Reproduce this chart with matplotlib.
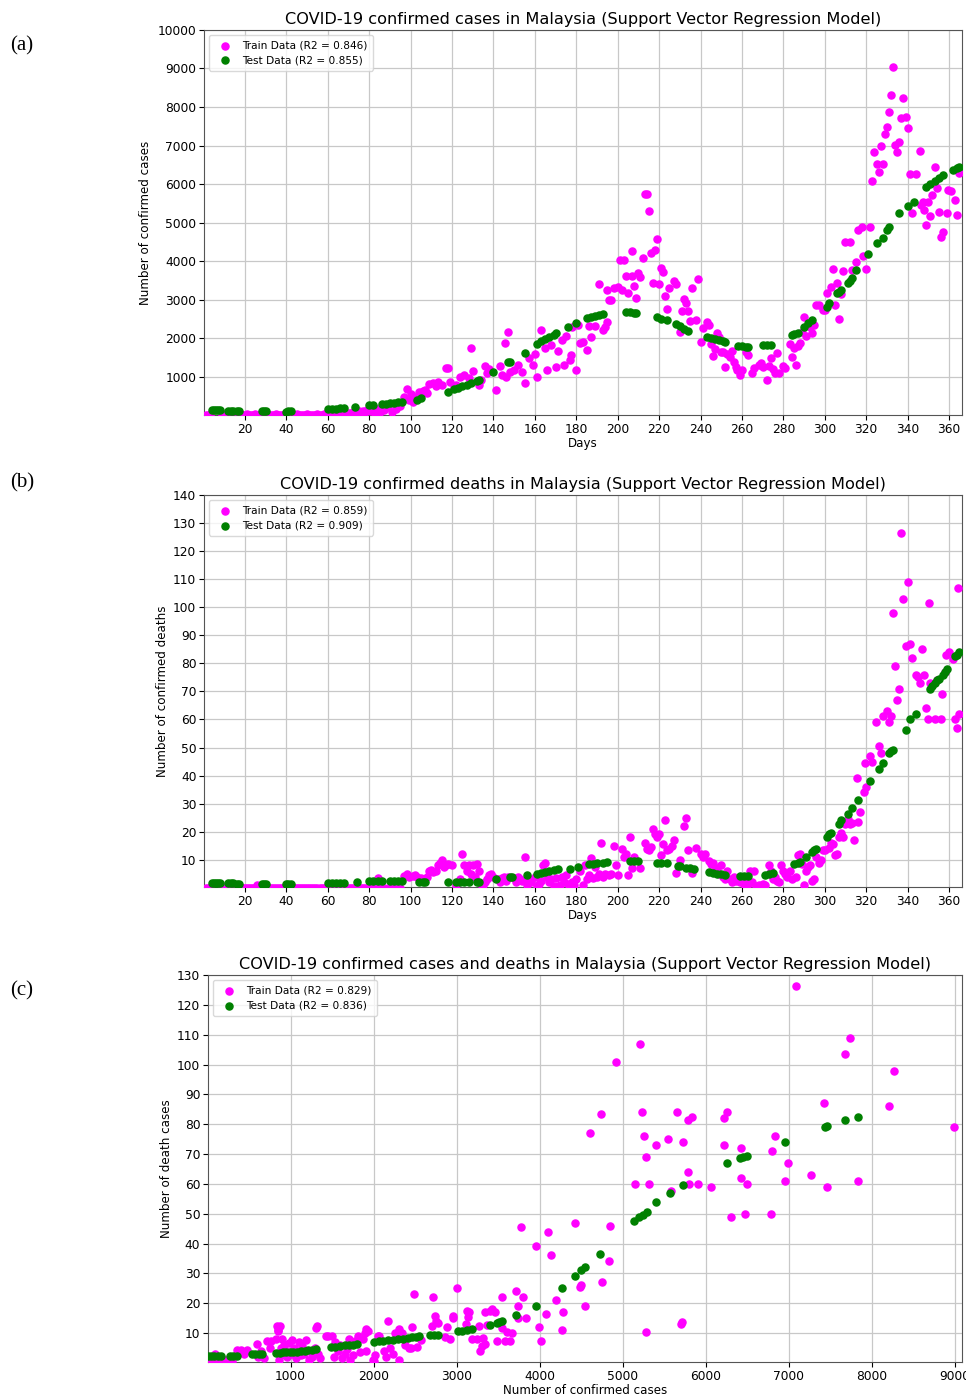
import numpy as np
import matplotlib
matplotlib.use('Agg')
import matplotlib.pyplot as plt

# ---------------- (a) confirmed cases vs day ----------------
early_days = [1, 2, 3, 9, 10, 11, 15, 18, 19, 20, 21, 22, 23, 24, 25, 26, 27, 31, 32, 33, 34, 35, 36, 37, 38, 39,
              43, 44, 45, 46, 47, 48, 49, 50, 51, 52, 53, 54, 55, 56, 57, 58, 59, 61, 63, 65, 67, 69, 70, 71, 72,
              74, 75, 76, 77, 78, 79, 81, 83, 84, 85, 87, 89, 91, 93, 95]
a_early_cases = [20, 15, 25, 20, 15, 30, 20, 25, 15, 20, 30, 25, 20, 15, 30, 20, 25, 20, 15, 25, 20, 30, 15, 20, 25, 15,
                 20, 25, 30, 20, 15, 25, 20, 30, 25, 20, 15, 25, 30, 20, 25, 30, 35, 30, 40, 35, 45, 50, 60, 40, 90,
                 70, 110, 50, 130, 80, 150, 120, 60, 180, 100, 140, 210, 90, 170, 250]

a_train_day = [97, 98, 99, 100, 101, 102, 104, 106, 107, 108, 109, 111, 112, 113, 115, 117, 118, 119, 121, 122,
               124, 126, 128, 129, 130, 133, 134, 136, 137, 138, 141, 143, 144, 145.6, 146, 147, 148, 150, 152, 154,
               155, 157, 159, 160, 161, 163, 165, 166, 168, 170, 171, 173, 174, 175, 177, 177.5, 178, 180, 181, 182,
               183, 185, 186, 187, 189, 191, 193, 194, 195, 195, 196, 197, 198, 200, 201, 202, 203, 204, 205, 207,
               207, 208, 209, 210, 211, 212, 213, 214, 215, 216, 217, 218, 219, 220, 221, 222, 223, 224, 225, 227,
               228, 230, 231, 232, 233, 234, 235, 236, 238, 239, 240, 241, 243, 244, 245, 246, 247, 248, 249, 250,
               251, 252, 253, 254, 255, 256, 257, 257.5, 259, 260, 262, 263, 265, 266, 268, 269, 270, 272, 273, 274,
               275, 276, 277, 278, 280, 281, 283, 284, 285, 286, 287, 288, 289, 290, 291, 293, 294, 295, 296, 297,
               299, 300, 301, 303, 304, 305, 306, 307, 308, 309, 310, 312, 313, 315, 316, 318, 318.5, 320, 322, 323,
               324, 325, 326, 327, 328, 329, 330, 331, 332, 333, 334, 335, 336, 337, 338, 339, 340, 341, 342, 344,
               346, 346.5, 347.5, 348, 349, 350, 351, 352, 353, 354, 355, 356, 357, 359, 359.5, 361, 363, 364, 365]
a_train_cases = [470, 690, 400, 550, 350, 480, 600, 640, 660, 580, 820, 850, 770, 870, 800, 1230, 1230, 860, 720, 800,
                 1000, 1050, 980, 1750, 1150, 800, 920, 1290, 1100, 1200, 660, 1290, 1050, 1880, 1000, 2170, 1130,
                 1180, 1310, 1130, 850, 1490, 1300, 1600, 1000, 2220, 1750, 1180, 1830, 1260, 1680, 1960, 1310, 2060,
                 1440, 1570, 2300, 1180, 2350, 1880, 1910, 1700, 2330, 2040, 2330, 3410, 2220, 2300, 2420, 3250, 3000,
                 3000, 3300, 3330, 4030, 3250, 4030, 3620, 3170, 3620, 4260, 3360, 3050, 3690, 3600, 4080, 5740, 5740,
                 5310, 4210, 3440, 4290, 4580, 3410, 3830, 3720, 3100, 2760, 3310, 3490, 3400, 2170, 2710, 3020, 2920,
                 2710, 2450, 3310, 2480, 3540, 1910, 2270, 2420, 2350, 1850, 1550, 1720, 2140, 2040, 1650, 1650, 1260,
                 1600, 1530, 1680, 1400, 1250, 1180, 1050, 1180, 1650, 1570, 1100, 1230, 1300, 1360, 1250, 920, 1280,
                 1490, 1200, 1100, 1620, 1100, 1280, 1230, 1850, 1530, 1750, 1310, 1800, 1880, 2160, 2550, 2050, 2290,
                 2150, 2350, 2860, 2860, 2740, 2740, 3180, 3330, 3800, 2860, 3440, 2500, 3150, 3750, 4500, 4500, 3780,
                 3980, 4810, 4890, 4140, 3800, 4890, 6080, 6830, 6520, 6310, 6990, 6520, 7300, 7480, 7870, 8310, 9030,
                 7010, 6830, 7090, 7710, 8230, 7740, 7460, 6260, 5250, 6260, 6860, 5450, 5530, 5320, 4940, 5550, 5170,
                 5720, 6440, 5890, 5290, 4630, 4760, 5250, 5850, 5830, 5580, 5210, 6290]

a_test_day = [4, 5, 6, 7, 8, 12, 13, 14, 16, 17, 28, 29, 30, 40, 41, 42, 60, 62, 64, 66, 68, 73, 80, 82, 86, 88, 90,
              92, 94, 96, 103, 105, 118, 121, 123, 125, 127, 129, 132, 133, 140, 147, 148, 155, 161, 163, 165, 167,
              169, 170, 176, 180, 185, 187, 189, 191, 193, 204, 206, 208, 209, 219, 221, 224, 228, 230, 232, 234,
              243, 245, 247, 249, 251, 252, 258, 260, 262, 263, 270, 272, 274, 284, 285, 287, 290, 292, 294, 301,
              302, 306, 307, 308, 311, 312, 313, 315, 321, 325, 328, 330, 331, 336, 340, 343, 349, 351, 353, 355,
              357, 362, 364, 365]
a_test_cases = [150, 155, 150, 155, 150, 130, 125, 120, 110, 110, 110, 115, 110, 100, 110, 120, 170, 175, 180, 185,
                190, 220, 260, 280, 300, 310, 320, 330, 340, 350, 400, 450, 610, 690, 720, 760, 800, 840, 900, 930,
                1130, 1380, 1400, 1620, 1860, 1920, 1980, 2040, 2100, 2140, 2290, 2400, 2530, 2560, 2580, 2600, 2630,
                2680, 2680, 2670, 2660, 2550, 2510, 2480, 2370, 2310, 2250, 2190, 2040, 2010, 1980, 1950, 1920, 1900,
                1800, 1800, 1790, 1790, 1820, 1830, 1840, 2100, 2120, 2150, 2300, 2400, 2480, 2820, 2920, 3170, 3210,
                3250, 3440, 3500, 3570, 3780, 4190, 4470, 4600, 4810, 4890, 5250, 5440, 5540, 5920, 6000, 6080, 6150,
                6230, 6370, 6410, 6440]

# ---------------- (b) confirmed deaths vs day ----------------
b_early_deaths = [0, 0, 0, 0, 0, 0, 0, 0, 0, 0, 0, 0, 0, 0, 0, 1, 0, 0, 0, 0, 0, 0, 0, 0, 0, 0,
                  0, 0, 0, 0, 0, 0, 0, 0, 0, 0, 0, 0, 0, 0, 0, 0, 0, 0, 0, 0, 0, 0, 0, 0, 0,
                  0, 0, 0, 0, 0, 0, 0, 0, 3.5, 0, 0, 0, 0, 0, 0]

b_train_day = [97, 98, 99, 101, 102, 103, 105, 108, 109, 110, 111, 112, 113, 114, 115, 116, 117, 118, 120, 122, 124,
               125, 126, 127, 128, 129, 130, 131, 132, 133, 134, 135, 136, 137, 138, 139, 140, 142, 143, 144, 145,
               146, 147, 150, 151, 152, 153, 154, 155, 156, 157, 158, 160, 161, 162, 163, 164, 165, 166, 167, 168,
               169, 170, 172, 173, 174, 175, 176, 177, 178, 179, 180, 182, 183, 184, 185, 186, 187, 188, 189, 190,
               191, 192, 193, 194, 196, 197, 198, 199, 200, 202, 203, 204, 205, 206, 207, 208, 211, 213, 214, 215,
               216, 217, 218, 219, 220, 221, 222, 223, 224, 225, 226, 227, 228, 230, 232, 233, 234, 236, 238, 240,
               241, 242, 244, 245, 246, 247, 248, 249, 250, 251, 252, 253, 254, 255, 256, 257, 258, 259, 260, 261,
               262, 263, 264, 265, 266, 267, 268, 269, 270, 271, 273, 274, 275, 276, 277, 278, 279, 280, 281, 282,
               283, 284, 286, 287, 288, 289, 290, 291, 292, 293, 294, 295, 296, 297, 298, 299, 300, 302, 303, 304,
               305, 306, 307, 308, 309, 310, 311, 312, 313, 314, 315.6, 316, 317, 318.8, 319.6, 320, 322, 323, 324.7,
               326, 327, 328, 330, 331, 332, 333, 334, 335, 336, 337, 338, 339, 340, 341, 342, 344, 345, 346, 347,
               348, 349, 350, 350.5, 351, 353, 354, 356, 356.6, 358, 358.5, 360, 362, 363, 364, 364.5, 365]
b_train_deaths = [4.3, 5, 4, 4.3, 4.5, 4, 3.5, 4, 6, 6.5, 5.5, 6, 8, 9, 10, 7.5, 8, 8.5, 8, 1, 3,
                  12, 8, 6, 8, 5, 8, 4, 8.5, 6, 1.5, 1, 2, 3, 4.5, 5, 4, 3, 2, 3.5, 4,
                  2.5, 4, 3.5, 2, 4, 3, 2.5, 11, 1, 3, 2, 4, 0.5, 1.5, 2.5, 8, 9, 4, 2, 3,
                  0.5, 3.5, 1, 4, 2, 4.5, 1.5, 0.5, 2, 1, 3, 6, 1, 8, 3, 4.5, 10.7, 3.5, 7.5, 4,
                  5, 16, 4, 5, 4.5, 5, 15, 8, 4.5, 14, 11, 12, 4.5, 18, 7, 11, 7, 16, 14, 13.5,
                  14.5, 21, 19, 18, 19, 11.7, 15.5, 24.3, 13.5, 14, 15, 17, 5.4, 10, 22, 25, 13.5, 5.4, 14.3, 12,
                  11, 12, 9.6, 8.6, 9, 6.5, 7, 5, 8, 4, 3, 6, 3, 2, 4, 2.5, 3.5, 2, 3, 1.5,
                  2, 1.5, 6, 2, 6, 0.5, 1, 0.5, 1.5, 1, 8, 6, 3, 4, 2.4, 2, 8, 6, 5, 4,
                  6, 3, 4, 11.8, 12, 8.5, 1, 6, 7.5, 8, 2.5, 3, 11, 9, 10, 13.5, 13.3, 14.3, 16, 15.7,
                  11.7, 12, 18, 19.6, 18, 22.6, 24.6, 22.6, 23, 17, 39, 23.4, 27, 34, 44.6, 36, 47, 45, 59,
                  50.7, 48, 61.4, 63, 59, 61.4, 98, 79, 67, 71, 126.4, 103, 86, 109, 87, 82, 76, 75, 73, 85,
                  76, 64, 60, 101.4, 73, 60, 74, 60, 69, 77, 83, 84, 81.6, 60, 57, 107, 62]

b_test_day = [4, 5, 6, 7, 8, 12, 13, 14, 16, 17, 28, 29, 30, 40, 41, 42, 60, 62, 64, 66, 68, 74, 80, 82, 84, 86, 90,
              92, 94, 96, 104, 106, 107, 118, 122, 124, 126, 128, 132, 133, 141, 148, 149, 156, 161, 163, 165, 167,
              169, 171, 177, 181, 186, 188, 190, 193, 195, 206, 208, 210, 219, 221, 224, 229, 230, 233, 235, 237,
              244, 246, 248, 250, 252, 259, 261, 263, 271, 273, 275, 285, 287, 288, 291, 294, 295, 296, 301, 302,
              303, 307, 308, 311, 313, 316, 322, 326, 328, 331, 332, 333, 339, 341, 344, 351, 352, 353, 354, 355,
              357, 358, 359, 363, 364, 365]
b_test_deaths = [1.8, 1.8, 1.8, 1.8, 1.8, 1.8, 1.8, 1.8, 1.5, 1.5, 1.3, 1.3, 1.3, 1.3, 1.3, 1.3, 1.8, 1.8, 1.8, 1.8,
                 1.8, 2, 2.5, 2.5, 2.5, 2.5, 2.5, 2.5, 2.5, 2.5, 2, 2, 2, 2, 2.2, 2.2, 2.2, 2.2, 2, 2, 3.3, 3.8, 3.8,
                 4.4, 5, 5.4, 5.8, 6.1, 6.4, 6.7, 6.8, 7.5, 8.4, 8.6, 8.8, 9, 9.2, 9.6, 9.6, 9.6, 8.9, 8.9, 8.9, 7.8,
                 7.8, 7.2, 7, 6.8, 5.7, 5.3, 5, 4.8, 4.6, 4.2, 4.2, 4.2, 4.7, 4.9, 5.1, 8.4, 8.8, 9.2, 11, 12.8,
                 13.5, 14, 18, 19, 19.6, 22.8, 24, 26.4, 28.6, 31.4, 37.9, 42.5, 44.6, 48, 48.6, 49, 56.4, 60, 62,
                 71, 72, 73, 74, 74.5, 76, 77, 78, 82.5, 83, 84]

# ---------------- (c) deaths vs confirmed cases ----------------
c_train_cases = [20, 60, 100, 140, 180, 220, 260, 290, 85, 45, 150, 360, 400, 440, 480, 590, 610, 640, 680, 710,
                 750, 760, 830, 840, 845, 850, 870, 860, 880, 890, 900, 920, 940, 960, 980, 1000, 1020, 1040, 1060,
                 1080, 1100, 1120, 1140, 1160, 1190, 1220, 1240, 1260, 1290, 1310, 1320, 1330, 1350, 1430, 1450,
                 1500, 1520, 1540, 1570, 1600, 1620, 1650, 1680, 1700, 1720, 1750, 1780, 1810, 1840, 1870, 1890,
                 1910, 1930, 1910, 1990, 2000, 2020, 2050, 2070, 2130, 2150, 2170, 2200, 2230, 2260, 2300, 2310,
                 2340, 2380, 2420, 2450, 2460, 2490, 2520, 2570, 2700, 2710, 2740, 2750, 2770, 2860, 2880, 2920,
                 2950, 2960, 3000, 3110, 3120, 3140, 3150, 3190, 3250, 3280, 3300, 3320, 3340, 3270, 3340, 3370,
                 3400, 3430, 3460, 3490, 3540, 3540, 3580, 3610, 3640, 3660, 3720, 3740, 3740, 3770, 3800, 3840,
                 3960, 3990, 4010, 4080, 4100, 4130, 4200, 4270, 4280, 4430, 4480, 4500, 4550, 4600, 4740, 4750,
                 4830, 4840, 4920, 5150, 5210, 5230, 5250, 5280, 5280, 5320, 5400, 5550, 5580, 5650, 5700, 5710,
                 5720, 5780, 5780, 5800, 5830, 5900, 6060, 6220, 6250, 6220, 6300, 6420, 6420, 6470, 6500, 6780,
                 6800, 6830, 6950, 6990, 7090, 7270, 7420, 7460, 7680, 7730, 7830, 8200, 8270, 8990]
c_train_deaths = [0.5, 1, 0.3, 0.8, 0.5, 1, 0.3, 0.7, 3, 1.5, 2, 4.4, 4.4, 3, 4.4, 6.4, 2, 4, 1.5, 7.4,
                  5, 7.4, 8, 12.2, 11, 10.7, 12.4, 1, 2.5, 5, 8, 6, 4, 2, 6.5, 3, 7.8, 5, 1.5,
                  4, 7, 2.5, 5.5, 3, 7.8, 1, 4, 2, 5, 11.8, 12.2, 3, 1.5, 9, 9,
                  9, 2, 7, 4, 6, 1.5, 3, 4.5, 8, 1, 2.5, 7.5, 9, 3.5, 8, 10,
                  11.3, 10.6, 4, 1, 0.5, 2.5, 9, 9, 4, 2, 14, 5, 3, 10, 1, 11.3,
                  10, 6, 5, 5, 12, 23, 5.4, 7.8, 12.4, 22, 15.6, 14, 13.4, 8.6, 12, 8,
                  15.6, 15, 25, 13, 17.5, 15.5, 17, 8, 8, 4, 5.5, 8.4, 6.4, 12.5, 17, 12.8,
                  17.5, 18, 17, 7.4, 22, 11.8, 7.4, 10.5, 7.4, 10, 24, 19, 15, 45.4, 22, 15,
                  39.3, 12, 7.4, 16.4, 44, 36.3, 21, 11, 17, 47, 25.6, 26, 19, 77, 83.3, 27,
                  34, 46, 101, 60, 107, 84, 76, 69, 10.4, 60, 73, 75, 57.5, 84, 13, 13.8,
                  74, 64, 81.3, 60, 82.3, 60, 59, 82, 84, 73, 49, 72, 62, 50, 60, 50,
                  71, 76, 61, 67, 126.4, 63, 87, 59, 103.5, 109, 61, 86, 98, 79]

c_test_cases = [10, 40, 80, 120, 160, 270, 310, 350, 530, 570, 620, 660, 830, 870, 910, 950, 990, 1030, 1080, 1120,
                1170, 1210, 1260, 1310, 1490, 1540, 1590, 1650, 1700, 1750, 1800, 2010, 2070, 2110, 2170, 2230,
                2290, 2350, 2410, 2460, 2510, 2550, 2680, 2730, 2770, 3010, 3060, 3120, 3180, 3400, 3480, 3510,
                3540, 3720, 3950, 4270, 4430, 4500, 4550, 4720, 5130, 5200, 5240, 5290, 5400, 5570, 5720, 6250,
                6410, 6450, 6490, 6950, 7430, 7460, 7680, 7830]
c_test_deaths = [2.3, 2.3, 2.3, 2.3, 2.3, 2.4, 2.4, 2.4, 3, 3, 3.1, 3.1, 3.4, 3.4, 3.5, 3.5, 3.6, 3.7, 3.8, 3.9,
                 4.0, 4.2, 4.3, 4.5, 5.3, 5.4, 5.5, 5.9, 6, 6.1, 6.3, 7, 7.2, 7.5, 7.6, 7.8,
                 7.9, 8.1, 8.5, 8.6, 8.7, 8.9, 9.4, 9.4, 9.5, 10.6, 10.8, 11, 11.3, 12.8, 13.3, 13.7,
                 14, 16, 19, 25, 29.2, 31, 32, 36.6, 47.4, 48.8, 49.6, 50.5, 53.8, 56.8, 59.5, 67,
                 68.7, 69, 69.3, 74, 79, 79.3, 81.3, 82.4]

r2_labels = [('0.846', '0.855'), ('0.859', '0.909'), ('0.829', '0.836')]

# ---------------- figure ----------------
fig = plt.figure(figsize=(9.66, 13.99), dpi=100)
ax_a = fig.add_axes([0.2112, 0.7034, 0.7847, 0.2752])
ax_b = fig.add_axes([0.2112, 0.3660, 0.7847, 0.2802])
ax_c = fig.add_axes([0.2153, 0.02645, 0.7805, 0.2766])

pink = '#ff00ff'
grn = 'green'
ms = 26
title_fs = 11.6
tick_fs = 8.8
lab_fs = 8.6

panels = [
    (ax_a, early_days + a_train_day, a_early_cases + a_train_cases, a_test_day, a_test_cases,
     'COVID-19 confirmed cases in Malaysia (Support Vector Regression Model)', 'Days', 'Number of confirmed cases'),
    (ax_b, early_days + b_train_day, b_early_deaths + b_train_deaths, b_test_day, b_test_deaths,
     'COVID-19 confirmed deaths in Malaysia (Support Vector Regression Model)', 'Days', 'Number of confirmed deaths'),
    (ax_c, c_train_cases, c_train_deaths, c_test_cases, c_test_deaths,
     'COVID-19 confirmed cases and deaths in Malaysia (Support Vector Regression Model)',
     'Number of confirmed cases', 'Number of death cases'),
]

for i, (ax, xtr, ytr, xte, yte, title, xl, yl) in enumerate(panels):
    ax.scatter(xtr, ytr, s=ms, color=pink, label='Train Data (R2 = %s)' % r2_labels[i][0], zorder=3)
    ax.scatter(xte, yte, s=ms, color=grn, label='Test Data (R2 = %s)' % r2_labels[i][1], zorder=3)
    ax.set_title(title, fontsize=title_fs, pad=4)
    ax.set_xlabel(xl, fontsize=lab_fs, labelpad=1)
    ax.set_ylabel(yl, fontsize=lab_fs)
    ax.grid(True, color='#c8c8c8', linewidth=0.9)
    ax.set_axisbelow(True)
    ax.tick_params(labelsize=tick_fs, length=3.5, pad=2)
    for sp in ax.spines.values():
        sp.set_color('#555555')
    leg = ax.legend(loc='upper left', fontsize=7.6, handletextpad=0.6, borderpad=0.5, labelspacing=0.45)
    leg.get_frame().set_edgecolor('#d0d0d0')

ax_a.set_xlim(0.2, 366.3)
ax_a.set_ylim(15, 10000)
ax_a.set_xticks(np.arange(20, 361, 20))
ax_a.set_yticks(np.arange(1000, 10001, 1000))

ax_b.set_xlim(0.2, 366.3)
ax_b.set_ylim(0.3, 140)
ax_b.set_xticks(np.arange(20, 361, 20))
ax_b.set_yticks(np.arange(10, 141, 10))

ax_c.set_xlim(5, 9084)
ax_c.set_ylim(0.3, 130)
ax_c.set_xticks(np.arange(1000, 9001, 1000))
ax_c.set_yticks(np.arange(10, 131, 10))

ax_a.yaxis.set_label_coords(-0.069, 0.5)
ax_b.yaxis.set_label_coords(-0.046, 0.5)
ax_c.yaxis.set_label_coords(-0.047, 0.5)

for lab, yy in [('(a)', 0.967), ('(b)', 0.655), ('(c)', 0.292)]:
    fig.text(0.01, yy, lab, fontsize=15, family='Liberation Serif', va='center', ha='left')

fig.savefig('out.png', dpi=100)
